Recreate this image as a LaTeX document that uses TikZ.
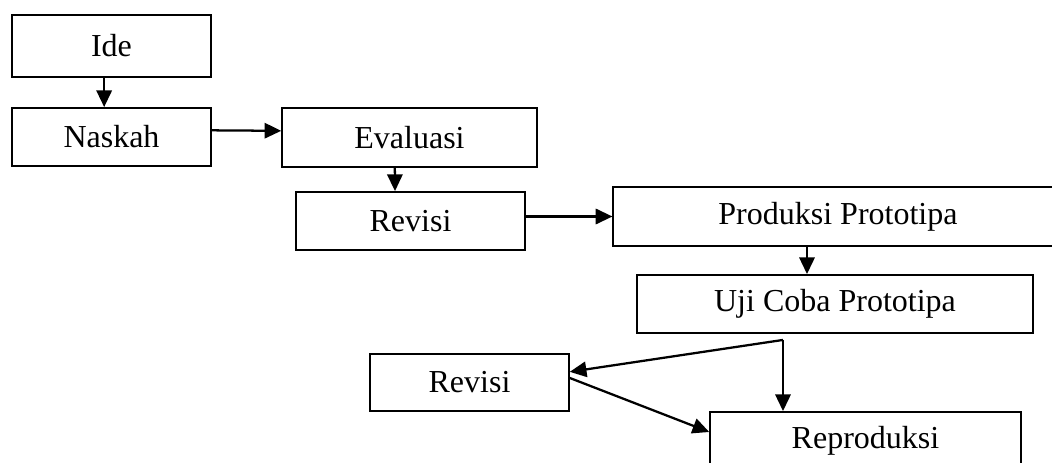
\documentclass[tikz,border=0pt]{standalone}
\usepackage{fontspec}
\setmainfont{Liberation Serif}
\usetikzlibrary{arrows.meta}

\begin{document}
\begin{tikzpicture}[
  x=0.75pt, y=-0.75pt,
  every node/.style={rectangle, draw, line width=1.4pt, inner sep=0pt, font=\fontsize{24}{28}\selectfont},
  arr/.style={-{Triangle[length=12.5pt,width=11.5pt]}, line width=1.7pt}
]
\useasboundingbox (0,0) rectangle (1052,463);
\clip (0,0) rectangle (1052,463);

% Nodes at their places
\node[minimum width=149pt, minimum height=46.5pt] (ide) at (111.5,46) {Ide};
\node[minimum width=149pt, minimum height=43.5pt] (naskah) at (111.5,137) {Naskah};
\node[minimum width=191pt, minimum height=44pt] (evaluasi) at (409.5,137.5) {Evaluasi};
\node[minimum width=172pt, minimum height=43.5pt] (revisiA) at (410.5,221) {Revisi};
\node[minimum width=337pt, minimum height=44pt] (produksi) at (838,216.5) {Produksi Prototipa};
\node[minimum width=297pt, minimum height=43.5pt] (uji) at (835,304) {Uji Coba Prototipa};
\node[minimum width=149pt, minimum height=43pt] (revisiB) at (469.5,382.5) {Revisi};
\node[minimum width=233pt, minimum height=43.5pt] (reproduksi) at (865.5,441) {Reproduksi};

% Points where arrows leave
\coordinate (splitA) at ([xshift=-21pt]uji.north);
\coordinate (fork) at ([xshift=-39pt,yshift=-4.5pt]uji.south);

% Edges
\draw[arr] ([xshift=-5.5pt]ide.south) -- ([xshift=-5.5pt]naskah.north);
\draw[arr] ([yshift=5pt]naskah.east) -- ([yshift=5pt]evaluasi.west);
\draw[arr] ([xshift=-11pt]evaluasi.south) -- ([xshift=-11.6pt]revisiA.north);
\draw[arr] (revisiA.east |- produksi.west) -- (produksi.west);
\draw[arr] (splitA |- produksi.south) -- (splitA);
\draw[arr] (fork) -- ([yshift=8pt]revisiB.east);
\draw[arr] (fork) -- (fork |- reproduksi.north);
\draw[arr] ([yshift=3.4pt]revisiB.east) -- ([yshift=6.75pt]reproduksi.west);

\end{tikzpicture}
\end{document}
